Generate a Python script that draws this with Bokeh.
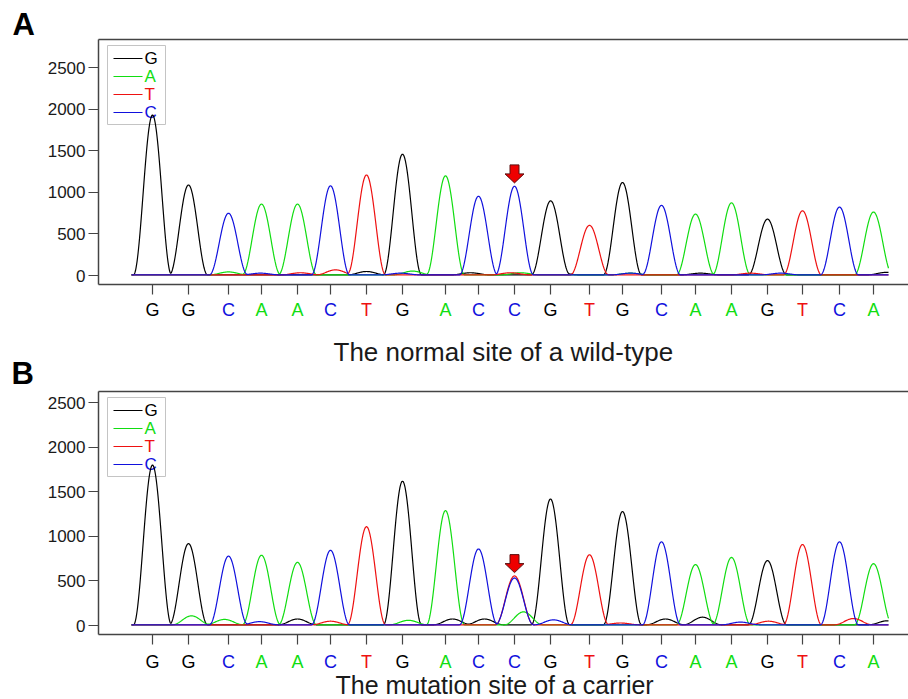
import numpy as np
from bokeh.plotting import figure
from bokeh.models import Range1d, FixedTicker, LinearAxis
from bokeh.layouts import column
from bokeh.embed import file_html
from bokeh.resources import INLINE
from bokeh.core.properties import value

# ---------------- data ----------------
bases = ["G", "G", "C", "A", "A", "C", "T", "G", "A", "C", "C",
         "G", "T", "G", "C", "A", "A", "G", "T", "C", "A"]
peak_scan = [152, 188, 228, 261, 297, 330, 366, 402, 445, 478, 514,
             550, 589, 622, 661, 695, 731, 767, 802, 839, 873]
height_wildtype = [1920, 1080, 740, 850, 850, 1070, 1200, 1450, 1190, 945, 1065,
                   880, 595, 1110, 835, 730, 865, 670, 770, 815, 755]
height_carrier = [1790, 910, 770, 780, 700, 835, 1100, 1610, 1280, 850, 525,
                  1410, 785, 1270, 930, 675, 755, 720, 900, 930, 685]
mutation_index = 10
carrier_second_base = "T"
carrier_second_height = 548

# minor (background) peaks: scan position, height
wt_minor_G_pos = [366, 470, 560, 700, 886]
wt_minor_G_h = [40, 25, 20, 20, 30]
wt_minor_A_pos = [228, 412, 520, 630]
wt_minor_A_h = [35, 45, 25, 20]
wt_minor_T_pos = [335, 300, 510, 750]
wt_minor_T_h = [60, 25, 25, 20]
wt_minor_C_pos = [260, 400, 630, 780]
wt_minor_C_h = [20, 20, 20, 20]

ca_minor_G_pos = [297, 452, 484, 665, 702, 887]
ca_minor_G_h = [65, 65, 65, 65, 85, 45]
ca_minor_A_pos = [191, 224, 408, 523]
ca_minor_A_h = [100, 60, 50, 145]
ca_minor_T_pos = [330, 620, 768, 853]
ca_minor_T_h = [40, 20, 40, 70]
ca_minor_C_pos = [259, 553, 740]
ca_minor_C_h = [35, 55, 30]

caption_wildtype = "The normal site of a wild-type"
caption_carrier = "The mutation site of a carrier"

channels = ["G", "A", "T", "C"]
colors = {"G": "#000000", "A": "#11dd11", "T": "#ee1111", "C": "#1111dd"}

FONT = "Liberation Sans"
HALF_W = 19.0  # peak half-support in scan units
W = 908


def no_align(fig):
    try:
        fig.frame_align = False
    except AttributeError:
        pass
    return fig


def pulse(x, c, h):
    d = np.abs(x - c)
    out = h * np.cos(np.pi * d / (2 * HALF_W)) ** 2
    out[d >= HALF_W] = 0.0
    return out


def traces(heights, minors, extra=None):
    x = np.arange(131.0, 888.5, 0.5)
    out = {}
    for ch in channels:
        y = np.full_like(x, 8.0)
        for b, c, h in zip(bases, peak_scan, heights):
            if b == ch:
                y += pulse(x, c, h)
        mp, mh = minors[ch]
        for c, h in zip(mp, mh):
            y += pulse(x, c, h)
        if extra and extra[0] == ch:
            y += pulse(x, extra[1], extra[2])
        out[ch] = (x, y)
    return out


def text_fig(top, bottom):
    """A strip with no axes whose data coordinates equal page pixels."""
    t = figure(width=W, height=bottom - top, output_backend="svg", toolbar_location=None,
               x_range=Range1d(0, W), y_range=Range1d(bottom, top),
               min_border=0, min_border_left=0, min_border_right=0,
               min_border_top=0, min_border_bottom=0,
               x_axis_type=None, y_axis_type=None)
    t.outline_line_color = None
    t.grid.visible = False
    t.background_fill_color = "white"
    t.border_fill_color = "white"
    return no_align(t)


def add_letters(t, center_y):
    t.text(x=peak_scan, y=[center_y] * len(bases), text=bases,
           text_color=[colors[b] for b in bases], text_font=value(FONT),
           text_font_size=value("18px"), text_align="center", text_baseline="middle")


def add_text(t, x, y, s, size, bold=False, color="#1a1a1a"):
    t.text(x=[x], y=[y], text=[s], text_color=color, text_font=value(FONT),
           text_font_size=value(size), text_font_style="bold" if bold else "normal",
           text_align="left", text_baseline="middle")


def make_panel(fig_top, fig_bot, frame_top, frame_bot, zero_px, top_px, heights,
               minors, extra=None, arrow_h=None):
    ppu = (zero_px - top_px) / 2500.0

    def yd(py):
        return (zero_px - py) / ppu

    p = figure(width=W, height=fig_bot - fig_top, output_backend="svg", toolbar_location=None,
               x_range=Range1d(98, W), y_range=Range1d(yd(frame_bot), yd(frame_top)),
               min_border_left=98, min_border_right=0,
               min_border_top=frame_top - fig_top,
               min_border_bottom=fig_bot - frame_bot,
               x_axis_type=None, y_axis_type=None)
    p.outline_line_color = None
    p.grid.visible = False
    p.background_fill_color = "white"
    p.border_fill_color = "white"
    no_align(p)

    yaxis = LinearAxis(ticker=FixedTicker(ticks=[0, 500, 1000, 1500, 2000, 2500]))
    yaxis.major_tick_out = 10
    yaxis.major_tick_in = 0
    yaxis.minor_tick_out = 0
    yaxis.minor_tick_in = 0
    yaxis.major_label_standoff = 3
    yaxis.major_label_text_font = FONT
    yaxis.major_label_text_font_size = "17px"
    yaxis.major_label_text_color = "#1a1a1a"
    yaxis.axis_line_color = "#444444"
    yaxis.axis_line_width = 1.5
    yaxis.major_tick_line_color = "#444444"
    yaxis.major_tick_line_width = 1.2
    p.add_layout(yaxis, "left")

    xaxis = LinearAxis(ticker=FixedTicker(ticks=peak_scan))
    xaxis.major_label_overrides = {float(t): "" for t in peak_scan}
    xaxis.major_label_text_font_size = "0px"
    xaxis.major_label_standoff = 0
    xaxis.major_tick_out = 10
    xaxis.major_tick_in = 0
    xaxis.minor_tick_out = 0
    xaxis.minor_tick_in = 0
    xaxis.axis_line_color = "#444444"
    xaxis.axis_line_width = 1.5
    xaxis.major_tick_line_color = "#444444"
    xaxis.major_tick_line_width = 1.2
    p.add_layout(xaxis, "below")

    top = LinearAxis(ticker=FixedTicker(ticks=[]))
    top.axis_line_color = "#444444"
    top.axis_line_width = 1.5
    top.major_tick_out = 0
    top.minor_tick_out = 0
    top.major_label_standoff = 0
    p.add_layout(top, "above")

    # legend box (drawn under the traces)
    p.quad(left=[107], right=[165], top=[yd(frame_top + 6)], bottom=[yd(frame_top + 85)],
           fill_color="white", line_color="#c4c4c4", line_width=1)
    rows = [frame_top + 19, frame_top + 37, frame_top + 55, frame_top + 73]
    p.segment(x0=[113] * 4, x1=[142] * 4, y0=[yd(r) for r in rows], y1=[yd(r) for r in rows],
              line_color=[colors[c] for c in channels], line_width=1.2)
    p.text(x=[144] * 4, y=[yd(r) for r in rows], text=channels,
           text_color=[colors[c] for c in channels], text_font=value(FONT),
           text_font_size=value("17px"), text_baseline="middle", text_align="left")

    tr = traces(heights, minors, extra)
    for ch in channels:
        x, y = tr[ch]
        p.line(x, y, line_color=colors[ch], line_width=1.2)

    # red arrow over the site of interest
    cx = peak_scan[mutation_index]
    tip = zero_px - arrow_h * ppu - 4
    ax = [cx - 4.5, cx + 4.5, cx + 4.5, cx + 9.5, cx, cx - 9.5, cx - 4.5]
    ay = [tip - 18, tip - 18, tip - 9, tip - 9, tip, tip - 9, tip - 9]
    p.patch(ax, [yd(v) for v in ay], fill_color="#ee0000", line_color="#5a1010", line_width=1)
    return p


wt_minors = {"G": (wt_minor_G_pos, wt_minor_G_h), "A": (wt_minor_A_pos, wt_minor_A_h),
             "T": (wt_minor_T_pos, wt_minor_T_h), "C": (wt_minor_C_pos, wt_minor_C_h)}
ca_minors = {"G": (ca_minor_G_pos, ca_minor_G_h), "A": (ca_minor_A_pos, ca_minor_A_h),
             "T": (ca_minor_T_pos, ca_minor_T_h), "C": (ca_minor_C_pos, ca_minor_C_h)}

# header with panel letter A
hA = text_fig(0, 38)
add_text(hA, 12, 24, "A", "31px", bold=True, color="#000000")

pA = make_panel(38, 300, 39, 284, 275, 67, height_wildtype, wt_minors,
                arrow_h=height_wildtype[mutation_index])

# base calls A, caption A and panel letter B
tA = text_fig(300, 390)
add_letters(tA, 309.5)
add_text(tA, 333, 351.5, caption_wildtype, "26px")
add_text(tA, 11, 373, "B", "31px", bold=True, color="#000000")

pB = make_panel(390, 648, 391, 634, 625, 402, height_carrier, ca_minors,
                extra=(carrier_second_base, peak_scan[mutation_index], carrier_second_height),
                arrow_h=carrier_second_height)

tB = text_fig(648, 699)
add_letters(tB, 661)
add_text(tB, 335, 684, caption_carrier, "25px")

layout = column(hA, pA, tA, pB, tB, spacing=0)
no_align(layout)
open("out.html", "w").write(file_html(layout, INLINE))
